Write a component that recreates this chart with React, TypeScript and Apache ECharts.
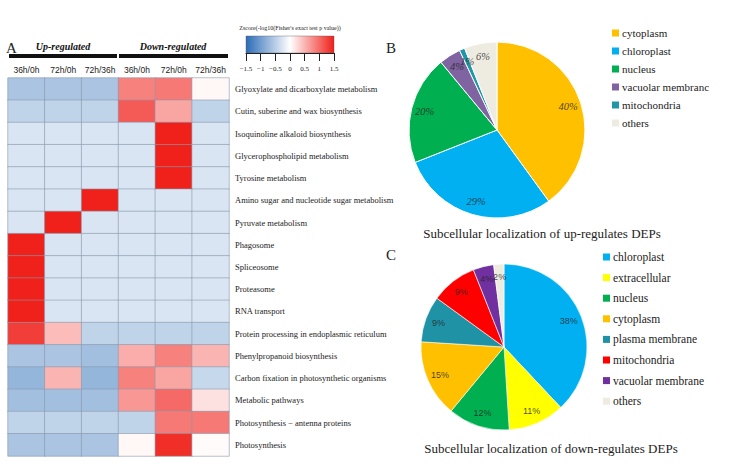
import React, { useEffect, useRef } from "react";
import * as echarts from "echarts";

// ---------- Heatmap data ----------
const columns = ["36h/0h", "72h/0h", "72h/36h", "36h/0h", "72h/0h", "72h/36h"];
const groupLabels = ["Up-regulated", "Down-regulated"];
const pathways = [
  "Glyoxylate and dicarboxylate metabolism",
  "Cutin, suberine and wax biosynthesis",
  "Isoquinoline alkaloid biosynthesis",
  "Glycerophospholipid metabolism",
  "Tyrosine metabolism",
  "Amino sugar and nucleotide sugar metabolism",
  "Pyruvate metabolism",
  "Phagosome",
  "Spliceosome",
  "Proteasome",
  "RNA transport",
  "Protein processing in endoplasmic reticulum",
  "Phenylpropanoid biosynthesis",
  "Carbon fixation in photosynthetic organisms",
  "Metabolic pathways",
  "Photosynthesis − antenna proteins",
  "Photosynthesis",
];
const up36_0 = [-0.6, -0.45, -0.27, -0.27, -0.27, -0.27, -0.27, 1.5, 1.5, 1.5, 1.5, 1.3, -0.6, -0.75, -0.65, -0.45, -0.6];
const up72_0 = [-0.6, -0.45, -0.27, -0.27, -0.27, -0.27, 1.5, -0.27, -0.27, -0.27, -0.27, 0.45, -0.6, 0.5, -0.65, -0.45, -0.6];
const up72_36 = [-0.6, -0.45, -0.27, -0.27, -0.27, 1.5, -0.27, -0.27, -0.27, -0.27, -0.27, -0.45, -0.65, -0.75, -0.65, -0.45, -0.6];
const down36_0 = [0.85, 1.1, -0.27, -0.27, -0.27, -0.27, -0.27, -0.27, -0.27, -0.27, -0.27, -0.45, 0.55, 0.85, 0.7, -0.45, 0.05];
const down72_0 = [0.9, 0.6, 1.5, 1.5, 1.5, -0.27, -0.27, -0.27, -0.27, -0.27, -0.27, -0.45, 0.85, 0.6, 1.0, 0.9, 1.4];
const down72_36 = [0.05, -0.45, -0.27, -0.27, -0.27, -0.27, -0.27, -0.27, -0.27, -0.27, -0.27, -0.45, 0.5, -0.4, 0.2, 0.9, 0.03];
const zMin = -1.5;
const zMax = 1.5;
const zTickInterval = 0.5;
const colorbarTitle = "Zscore(-log10(Fisher's exact test p value))";

// ---------- Pie B data ----------
const upNames = ["cytoplasm", "chloroplast", "nucleus", "vacuolar membranc", "mitochondria", "others"];
const upValues = [40, 29, 20, 4, 1, 6];
const upColors = ["#ffc000", "#00b0f0", "#00b050", "#8064a2", "#1f97a8", "#eeece1"];
const upTitle = "Subcellular localization of up-regulates DEPs";

// ---------- Pie C data ----------
const downNames = ["chloroplast", "extracellular", "nucleus", "cytoplasm", "plasma membrane", "mitochondria", "vacuolar membrane", "others"];
const downValues = [38, 11, 12, 15, 9, 9, 4, 2];
const downColors = ["#00b0f0", "#ffff00", "#00b050", "#ffc000", "#2092a6", "#ff0000", "#7030a0", "#eeece1"];
const downTitle = "Subcellular localization of down-regulates DEPs";

const BLUE = "#2b6cb6";
const RED = "#f0201a";

export default function App() {
  const ref = useRef<HTMLDivElement>(null);
  useEffect(() => {
    if (!ref.current) return;
    const chart = echarts.init(ref.current, undefined, { renderer: "svg" });
    const cols = [up36_0, up72_0, up72_36, down36_0, down72_0, down72_36];
    const heatData: number[][] = [];
    cols.forEach((col, x) => col.forEach((v, y) => heatData.push([x, y, v])));

    const serif = "Liberation Serif";
    const sans = "Liberation Sans";

    const pieData = (names: string[], values: number[], colors: string[]) =>
      names.map((n, i) => ({ name: n, value: values[i], itemStyle: { color: colors[i] } }));
    // label anchor points in polar coordinates: [radius fraction, mid cumulative value]
    const labelPoints = (values: number[], rf: number) => {
      let acc = 0;
      return values.map((v) => {
        const mid = acc + v / 2;
        acc += v;
        return [rf, mid];
      });
    };
    const total = (values: number[]) => values.reduce((a, b) => a + b, 0);
    const minus = (v: number) => String(v).replace("-", "−");

    // legend drawn as graphic group (square + serif text)
    const legendGroup = (names: string[], colors: string[], x: number, y0: number, pitch: number, fs: number) => ({
      type: "group",
      x,
      y: y0,
      children: names.flatMap((n, i) => [
        { type: "rect", shape: { x: 0, y: i * pitch - 3.5, width: 7, height: 7 }, style: { fill: colors[i] } },
        {
          type: "text",
          x: 10,
          y: i * pitch,
          style: { text: n, fontFamily: serif, fontSize: fs, fill: "#222", verticalAlign: "middle", align: "left" },
        },
      ]),
    });

    const rB = 88;
    const rC = 83;
    const cB = [497, 130];
    const cC = [504, 347];

    chart.setOption({
      animation: false,
      backgroundColor: "#ffffff",
      grid: [
        { left: 8, top: 78, width: 221, height: 378 },
        { left: 246, top: 36, width: 88, height: 17 },
      ],
      polar: [
        { center: cB, radius: rB },
        { center: cC, radius: rC },
      ],
      angleAxis: [
        { polarIndex: 0, type: "value", min: 0, max: total(upValues), startAngle: 90, clockwise: true, show: false },
        { polarIndex: 1, type: "value", min: 0, max: total(downValues), startAngle: 90, clockwise: true, show: false },
      ],
      radiusAxis: [
        { polarIndex: 0, type: "value", min: 0, max: 1, show: false },
        { polarIndex: 1, type: "value", min: 0, max: 1, show: false },
      ],
      xAxis: [
        {
          type: "category",
          data: columns,
          position: "top",
          gridIndex: 0,
          axisLine: { show: false },
          axisTick: { show: false },
          splitLine: { show: false },
          axisLabel: { fontSize: 8.5, fontFamily: sans, color: "#222", margin: 4, interval: 0 },
        },
        {
          type: "value",
          gridIndex: 1,
          min: zMin,
          max: zMax,
          interval: zTickInterval,
          position: "bottom",
          axisLine: { show: true, lineStyle: { color: "#222", width: 1 } },
          axisTick: { show: true, length: 8, lineStyle: { color: "#222", width: 1 } },
          splitLine: { show: false },
          axisLabel: { fontSize: 7, fontFamily: serif, color: "#222", margin: 12, formatter: minus },
        },
      ],
      yAxis: [
        {
          type: "category",
          data: pathways,
          inverse: true,
          position: "right",
          gridIndex: 0,
          axisLine: { show: false },
          axisTick: { show: false },
          splitLine: { show: false },
          axisLabel: { fontSize: 8.5, fontFamily: serif, color: "#222", margin: 6, interval: 0 },
        },
        { type: "value", gridIndex: 1, show: false, min: 0, max: 1 },
      ],
      visualMap: {
        show: false,
        type: "continuous",
        min: zMin,
        max: zMax,
        seriesIndex: 0,
        inRange: { color: [BLUE, "#ffffff", RED] },
      },
      series: [
        {
          type: "heatmap",
          xAxisIndex: 0,
          yAxisIndex: 0,
          data: heatData,
          itemStyle: { borderColor: "#8a98ad", borderWidth: 0.6 },
          emphasis: { disabled: true },
          silent: true,
        },
        {
          type: "pie",
          center: cB,
          radius: [0, rB],
          startAngle: 90,
          data: pieData(upNames, upValues, upColors),
          label: { show: false },
          labelLine: { show: false },
          itemStyle: { borderColor: "#ffffff", borderWidth: 1 },
          emphasis: { disabled: true },
          silent: true,
        },
        {
          type: "pie",
          center: cC,
          radius: [0, rC],
          startAngle: 90,
          data: pieData(downNames, downValues, downColors),
          label: { show: false },
          labelLine: { show: false },
          itemStyle: { borderColor: "#ffffff", borderWidth: 0.6 },
          emphasis: { disabled: true },
          silent: true,
        },
        {
          type: "scatter",
          coordinateSystem: "polar",
          polarIndex: 0,
          data: labelPoints(upValues, 0.85),
          symbolSize: 1,
          itemStyle: { color: "rgba(0,0,0,0)" },
          label: {
            show: true,
            position: "inside",
            formatter: (p: any) => upValues[p.dataIndex] + "%",
            fontFamily: serif,
            fontStyle: "italic",
            fontSize: 10.5,
            color: "#222",
          },
          emphasis: { disabled: true },
          silent: true,
          z: 5,
        },
        {
          type: "scatter",
          coordinateSystem: "polar",
          polarIndex: 1,
          data: labelPoints(downValues, 0.84),
          symbolSize: 1,
          itemStyle: { color: "rgba(0,0,0,0)" },
          label: {
            show: true,
            position: "inside",
            formatter: (p: any) => downValues[p.dataIndex] + "%",
            fontFamily: sans,
            fontSize: 9,
            color: "#222",
          },
          emphasis: { disabled: true },
          silent: true,
          z: 5,
        },
      ],
      graphic: [
        { type: "text", left: 6, top: 40, style: { text: "A", fontFamily: serif, fontSize: 15, fill: "#222" } },
        {
          type: "text", x: 63, y: 46,
          style: { text: groupLabels[0], fontFamily: serif, fontStyle: "italic", fontWeight: "bold", fontSize: 10, fill: "#111", align: "center", verticalAlign: "middle" },
        },
        {
          type: "text", x: 173, y: 46,
          style: { text: groupLabels[1], fontFamily: serif, fontStyle: "italic", fontWeight: "bold", fontSize: 10, fill: "#111", align: "center", verticalAlign: "middle" },
        },
        { type: "rect", shape: { x: 9, y: 54, width: 108, height: 4 }, style: { fill: "#111" } },
        { type: "rect", shape: { x: 119, y: 54, width: 109, height: 4 }, style: { fill: "#111" } },
        {
          type: "text", x: 290, y: 28,
          style: { text: colorbarTitle, fontFamily: serif, fontSize: 6, fill: "#222", align: "center", verticalAlign: "middle" },
        },
        {
          type: "rect",
          shape: { x: 246, y: 36, width: 88, height: 17 },
          style: {
            fill: new echarts.graphic.LinearGradient(0, 0, 1, 0, [
              { offset: 0, color: BLUE },
              { offset: 0.5, color: "#ffffff" },
              { offset: 1, color: RED },
            ]),
            stroke: "#555",
            lineWidth: 0.4,
          },
          z: -1,
        },
        { type: "text", left: 386, top: 40, style: { text: "B", fontFamily: serif, fontSize: 15, fill: "#222" } },
        { type: "text", left: 386, top: 247, style: { text: "C", fontFamily: serif, fontSize: 15, fill: "#222" } },
        {
          type: "text", x: 542, y: 233,
          style: { text: upTitle, fontFamily: serif, fontSize: 13, fill: "#222", align: "center", verticalAlign: "middle" },
        },
        {
          type: "text", x: 551, y: 448,
          style: { text: downTitle, fontFamily: serif, fontSize: 13, fill: "#222", align: "center", verticalAlign: "middle" },
        },
        legendGroup(upNames, upColors, 612, 33, 18, 11),
        legendGroup(downNames, downColors, 603, 257, 20.6, 11.5),
      ],
    });
    return () => chart.dispose();
  }, []);
  return (
    <div
      ref={ref}
      style={{ position: "absolute", left: 0, top: 0, width: 740, height: 466, background: "#fff" }}
    />
  );
}
